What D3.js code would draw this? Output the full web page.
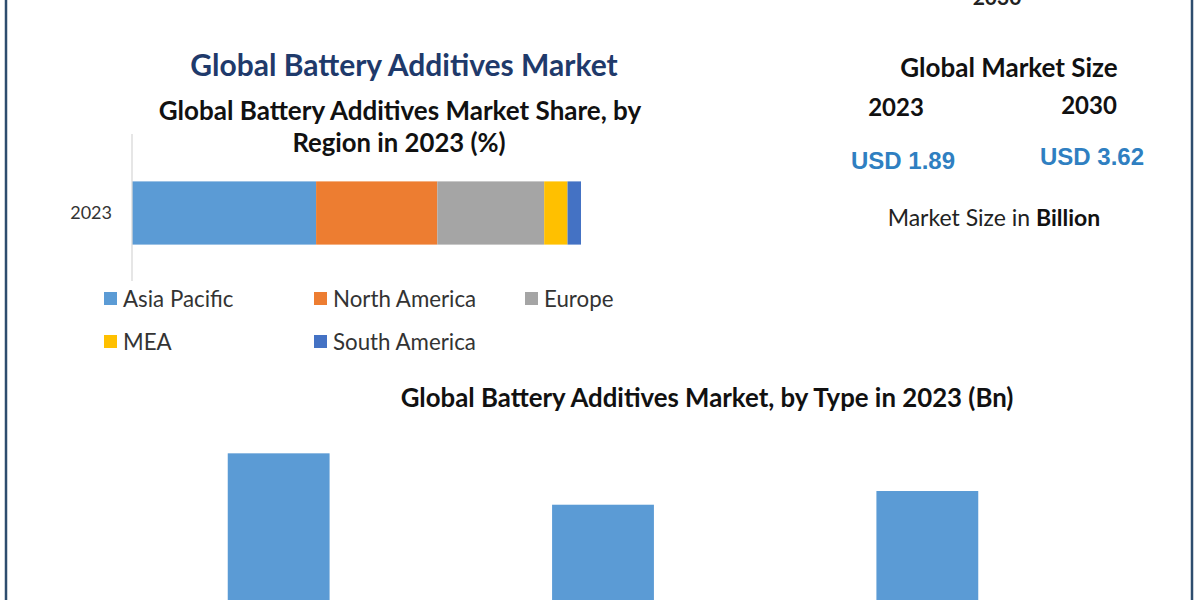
<!DOCTYPE html>
<html>
<head>
<meta charset="utf-8">
<script src="https://cdn.jsdelivr.net/npm/d3@7"></script>
<style>
	body { margin: 0; background: #fff; }
	svg  { display: block; }
</style>
</head>
<body>
<script>
// ************************************************************************************
// DATA
// ************************************************************************************
var regions      = ["Asia Pacific", "North America", "Europe", "MEA", "South America"]
  , regionShare  = [41.0, 27.0, 23.8, 5.2, 3.0]          // % of 2023 market
  , regionColors = ["#5b9bd5", "#ed7d31", "#a5a5a5", "#ffc000", "#4472c4"]
  , shareYear    = ["2023"]

  , types        = ["Conductive Additives", "Porous Additives", "Nucleating Additives"]
  , typeValues   = [0.72, 0.57, 0.61]                       // Bn, 2023

  , sizeYears    = ["2023", "2030"]
  , sizeValues   = ["USD 1.89", "USD 3.62"]

// ************************************************************************************
// GLOBAL VARIABLES
// ************************************************************************************
var W = 1200, H = 600
  , main_svg = d3.select("body").append("svg:svg")
					.attr("width", W)
					.attr("height", H)
  , calibri  = "Lato, 'Open Sans', sans-serif"

// ************************************************************************************
// FRAME
// ************************************************************************************
main_svg.append("line").attr("x1", 6).attr("x2", 6).attr("y1", 0).attr("y2", H)
	.attr("stroke", "#2e4d6e").attr("stroke-width", 2.5)
main_svg.append("line").attr("x1", 1192).attr("x2", 1192).attr("y1", 0).attr("y2", H)
	.attr("stroke", "#2e4d6e").attr("stroke-width", 2.5)

// half-cut year left over at the very top
main_svg.append("text").attr("x", 997).attr("y", 5)
	.attr("text-anchor", "middle").attr("font-family", calibri).attr("font-weight", 700)
	.attr("font-size", 21).attr("fill", "#222").text("2030")

// ************************************************************************************
// TITLES
// ************************************************************************************
var title = function (x, y, size, color, txt) {
	return main_svg.append("text")
		.attr("x", x).attr("y", y)
		.attr("text-anchor", "middle")
		.attr("font-family", calibri)
		.attr("font-weight", 700)
		.attr("font-size", size)
		.attr("fill", color)
		.text(txt)
}

title(404, 76, 30, "#1f3a6b", "Global Battery Additives Market")
title(400, 120, 26, "#111", "Global Battery Additives Market Share, by")
title(399, 152, 25.7, "#111", "Region in 2023 (%)")
title(707, 407, 25.8, "#111", "Global Battery Additives Market, by Type in 2023 (Bn)")

// ************************************************************************************
// STACKED SHARE BAR
// ************************************************************************************
var xShare = d3.scaleLinear().domain([0, 100]).range([132, 581])
  , yShare = d3.scaleBand().domain(shareYear).range([134, 292]).paddingInner(0.6).paddingOuter(0.3)

var stackData = [{}]
regions.forEach(function (r, i) { stackData[0][r] = regionShare[i] })
var series = d3.stack().keys(regions)(stackData)

main_svg.append("g").selectAll("rect")
	.data(series)
	.join("rect")
	.attr("x", function (d) { return xShare(d[0][0]) })
	.attr("width", function (d) { return xShare(d[0][1]) - xShare(d[0][0]) })
	.attr("y", yShare("2023"))
	.attr("height", yShare.bandwidth())
	.attr("fill", function (d, i) { return regionColors[i] })

var yAxis = main_svg.append("g")
	.attr("transform", "translate(" + xShare(0) + ",0)")
	.call(d3.axisLeft(yShare).tickSize(0).tickPadding(20))
yAxis.select(".domain").attr("stroke", "#d9d9d9").attr("stroke-width", 1.3)
	.attr("d", "M0,134V281")
yAxis.selectAll("text").attr("font-family", calibri).attr("font-size", 18)
	.attr("fill", "#333")

// legend
var legendCols = [104, 314, 525]
  , legend = main_svg.append("g").selectAll("g")
	.data(regions)
	.join("g")
	.attr("transform", function (d, i) {
		return "translate(" + legendCols[i % 3] + "," + (292 + Math.floor(i / 3) * 43) + ")"
	})

legend.append("rect").attr("width", 13).attr("height", 13)
	.attr("fill", function (d, i) { return regionColors[i] })
legend.append("text").attr("x", 19).attr("y", 15)
	.attr("font-family", calibri).attr("font-size", 22.3).attr("fill", "#333")
	.text(function (d) { return d })

// ************************************************************************************
// MARKET SIZE PANEL
// ************************************************************************************
title(1009, 77, 26, "#111", "Global Market Size")

var sizeX = [896, 1089]
sizeYears.forEach(function (y, i) {
	title(sizeX[i], 116 - i * 2, 24, "#111", y)
	main_svg.append("text")
		.attr("x", sizeX[i] + 7 - i * 4).attr("y", 169 - i * 4)
		.attr("text-anchor", "middle")
		.attr("font-family", "'Liberation Sans', Arial, sans-serif")
		.attr("font-size", 24).attr("font-weight", 700)
		.attr("fill", "#2f7fc1")
		.text(sizeValues[i])
})

var unit = main_svg.append("text").attr("x", 994).attr("y", 226)
	.attr("text-anchor", "middle").attr("font-family", calibri)
	.attr("font-size", 23).attr("fill", "#222")
unit.append("tspan").text("Market Size in ")
unit.append("tspan").attr("font-weight", 700).attr("fill", "#111").text("Billion")

// ************************************************************************************
// TYPE BAR CHART
// ************************************************************************************
var xType = d3.scaleBand().domain(types).range([116.5, 1089.5]).paddingInner(0.686).paddingOuter(0.343)
  , yType = d3.scaleLinear().domain([0, 1]).range([700, 357.4])

main_svg.append("g").selectAll("rect")
	.data(typeValues)
	.join("rect")
	.attr("x", function (d, i) { return xType(types[i]) })
	.attr("width", xType.bandwidth())
	.attr("y", function (d) { return yType(d) })
	.attr("height", function (d) { return yType(0) - yType(d) })
	.attr("fill", "#5b9bd5")
</script>
</body>
</html>
